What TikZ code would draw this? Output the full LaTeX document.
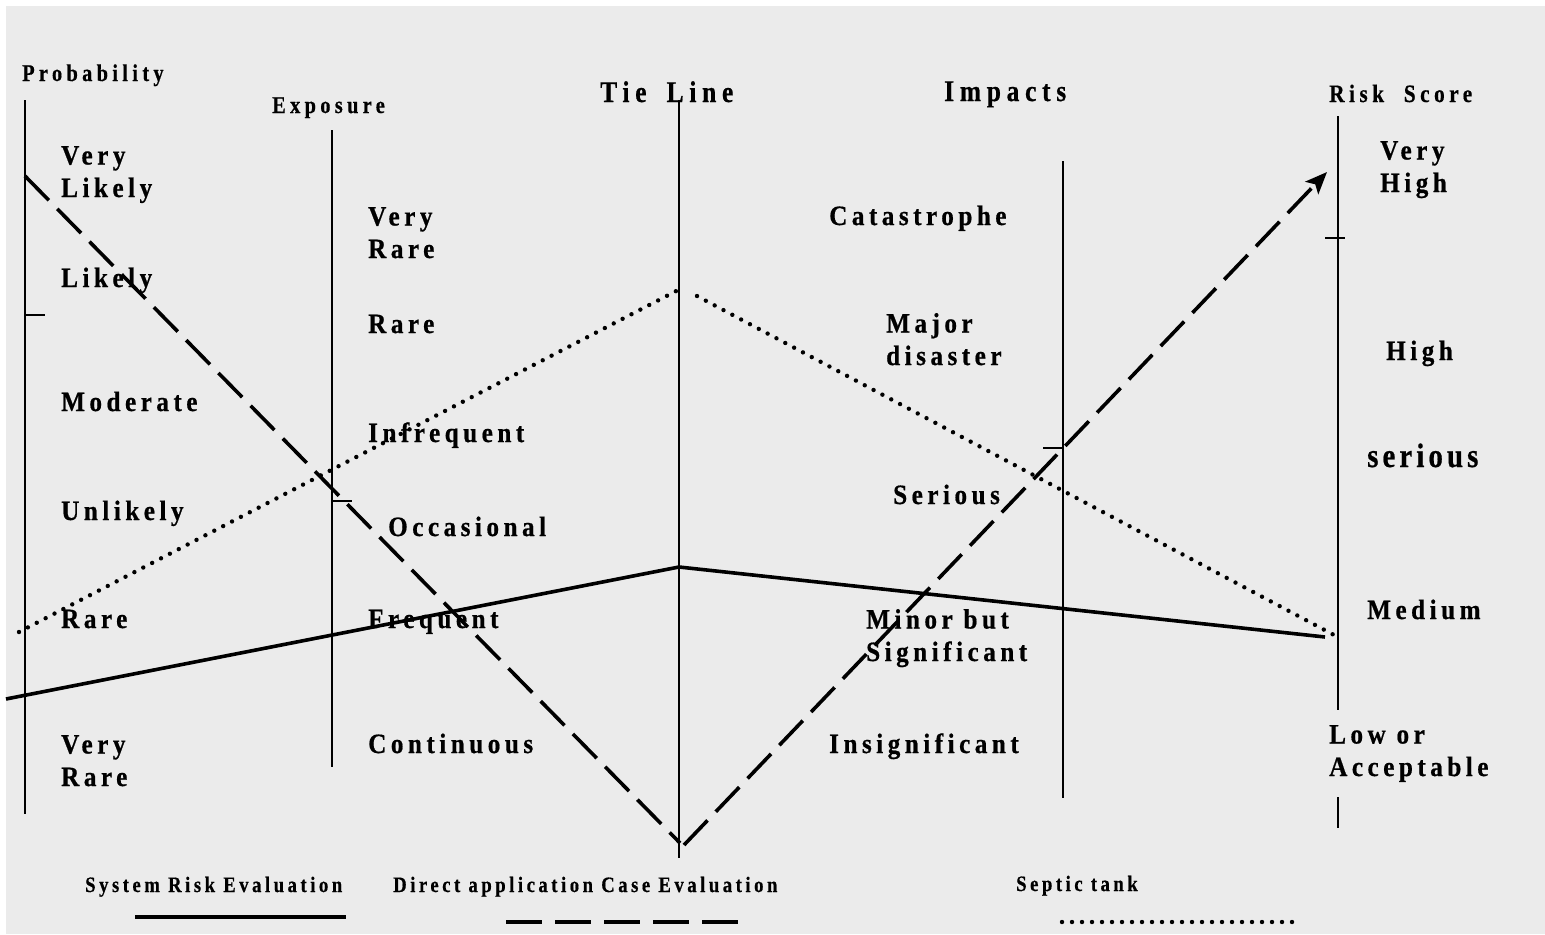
\documentclass[tikz,border=0pt]{standalone}
\usepackage{fontspec}
\usetikzlibrary{arrows.meta}
\setmainfont{Liberation Serif}
% letter-spaced, slightly condensed bold serif faces
\newfontfamily\catface{Liberation Serif}[FakeStretch=0.9,LetterSpace=16,FakeBold=0.6]
\newfontfamily\titleface{Liberation Serif}[FakeStretch=0.85,LetterSpace=18,FakeBold=0.5]
\newfontfamily\bigface{Liberation Serif}[FakeStretch=0.85,LetterSpace=19,FakeBold=0.6]
\newfontfamily\seriousface{Liberation Serif}[FakeStretch=0.85,LetterSpace=12,FakeBold=0.6]
\newfontfamily\legface{Liberation Serif}[FakeStretch=0.85,LetterSpace=16,FakeBold=0.5]
\definecolor{panel}{RGB}{235,235,235}
\tikzset{
  axis/.style={line width=1.6bp, black},
  tick/.style={line width=1.4bp, black},
  cat/.style={anchor=base west, inner sep=0pt, align=left,
    font=\catface\bfseries\fontsize{28bp}{32.5bp}\selectfont},
  axtitle/.style={anchor=base west, inner sep=0pt,
    font=\titleface\bfseries\fontsize{24bp}{28bp}\selectfont},
  bigtitle/.style={anchor=base west, inner sep=0pt,
    font=\bigface\bfseries\fontsize{30bp}{34bp}\selectfont},
  legtext/.style={anchor=base west, inner sep=0pt,
    font=\legface\bfseries\fontsize{22bp}{26bp}\selectfont},
  sysline/.style={line width=3.6bp, black},
  caseline/.style={line width=3.6bp, black, dash pattern=on 34bp off 12bp},
  septicline/.style={line width=4.4bp, black, line cap=round, dash pattern=on 0bp off 10bp},
}
\begin{document}
\begin{tikzpicture}[x=1bp, y=-1bp]
\useasboundingbox (0,0) rectangle (1545,934);
\fill[panel] (6,6) rectangle (1545,934);

% axes
\draw[axis] (25,100) -- (25,814);
\draw[axis] (332,130) -- (332,767);
\draw[axis] (679,100) -- (679,858);
\draw[axis] (1063,161) -- (1063,798);
\draw[axis] (1338,116) -- (1338,710);
\draw[axis] (1338,797) -- (1338,828);

% ticks
\draw[tick] (25,315) -- (45,315);
\draw[tick] (332,501) -- (352,501);
\draw[tick] (1043,448) -- (1063,448);
\draw[tick] (1325,238) -- (1345,238);

% axis titles
\node[axtitle] (tprob) at (22,81) {Probability};
\node[axtitle] (texp) at (272,113) {Exposure};
\node[bigtitle] (ttie) at (600,102) {Tie\hspace{8bp} Line};
\node[bigtitle] (timp) at (944,101) {Impacts};
\node[axtitle, font=\titleface\bfseries\fontsize{25bp}{29bp}\selectfont] (trisk) at (1329,102) {Risk\hspace{10bp} Score};

% probability scale (two-line labels are placed at their last baseline)
\node[cat] (p1) at (61,197) {Very\\Likely};
\node[cat] (p2) at (61,287) {Likely};
\node[cat] (p3) at (61,411) {Moderate};
\node[cat] (p4) at (61,520) {Unlikely};
\node[cat] (p5) at (61,628) {Rare};
\node[cat] (p6) at (61,786) {Very\\Rare};

% exposure scale
\node[cat] (e1) at (368,258) {Very\\Rare};
\node[cat] (e2) at (368,333) {Rare};
\node[cat] (e3) at (368,442) {Infrequent};
\node[cat] (e4) at (388,536) {Occasional};
\node[cat] (e5) at (368,628) {Frequent};
\node[cat] (e6) at (368,753) {Continuous};

% impacts scale
\node[cat] (i1) at (829,225) {Catastrophe};
\node[cat] (i2) at (886,365) {Major\\disaster};
\node[cat] (i3) at (893,504) {Serious};
\node[cat] (i4) at (866,661) {Minor but\\Significant};
\node[cat] (i5) at (829,753) {Insignificant};

% risk score scale
\node[cat] (r1) at (1380,192) {Very\\High};
\node[cat] (r2) at (1386,360) {High};
\node[anchor=base west, inner sep=0pt,
  font=\seriousface\bfseries\fontsize{34bp}{38bp}\selectfont] (r3) at (1367,467) {serious};
\node[cat] (r4) at (1367,619) {Medium};
\node[cat] (r5) at (1329,776) {Low or\\Acceptable};

% evaluation paths
\coordinate (s0) at (6,699);
\coordinate (s1) at (679,567);
\coordinate (s2) at (1325,637);
\draw[sysline] (s0) -- (s1) -- (s2);

\coordinate (c0) at (25,176);
\coordinate (c1) at (680,843);
\coordinate (c2) at (684,845);
\coordinate (c3) at (1327,172);
\draw[caseline] (c0) -- (c1);
\draw[caseline, -{Stealth[length=22bp, width=18bp, inset=5bp]}] (c2) -- (c3);

\coordinate (d0) at (19,632);
\coordinate (d1) at (682,288);
\coordinate (d2) at (697,296);
\coordinate (d3) at (1334,635);
\draw[septicline] (d0) -- (d1);
\draw[septicline] (d2) -- (d3);

% legend
\node[legtext] (l1) at (85,892) {System Risk Evaluation};
\node[legtext] (l2) at (393,892) {Direct application Case Evaluation};
\node[legtext] (l3) at (1016,891) {Septic tank};
\coordinate (la) at (135,917);
\coordinate (lb) at (346,917);
\coordinate (lc) at (506,922);
\coordinate (ld) at (742,922);
\coordinate (le) at (1062,922);
\coordinate (lf) at (1294,922);
\draw[sysline] (la) -- (lb);
\draw[line width=3.6bp, dash pattern=on 36bp off 13bp] (lc) -- (ld);
\draw[septicline] (le) -- (lf);
\end{tikzpicture}
\end{document}
